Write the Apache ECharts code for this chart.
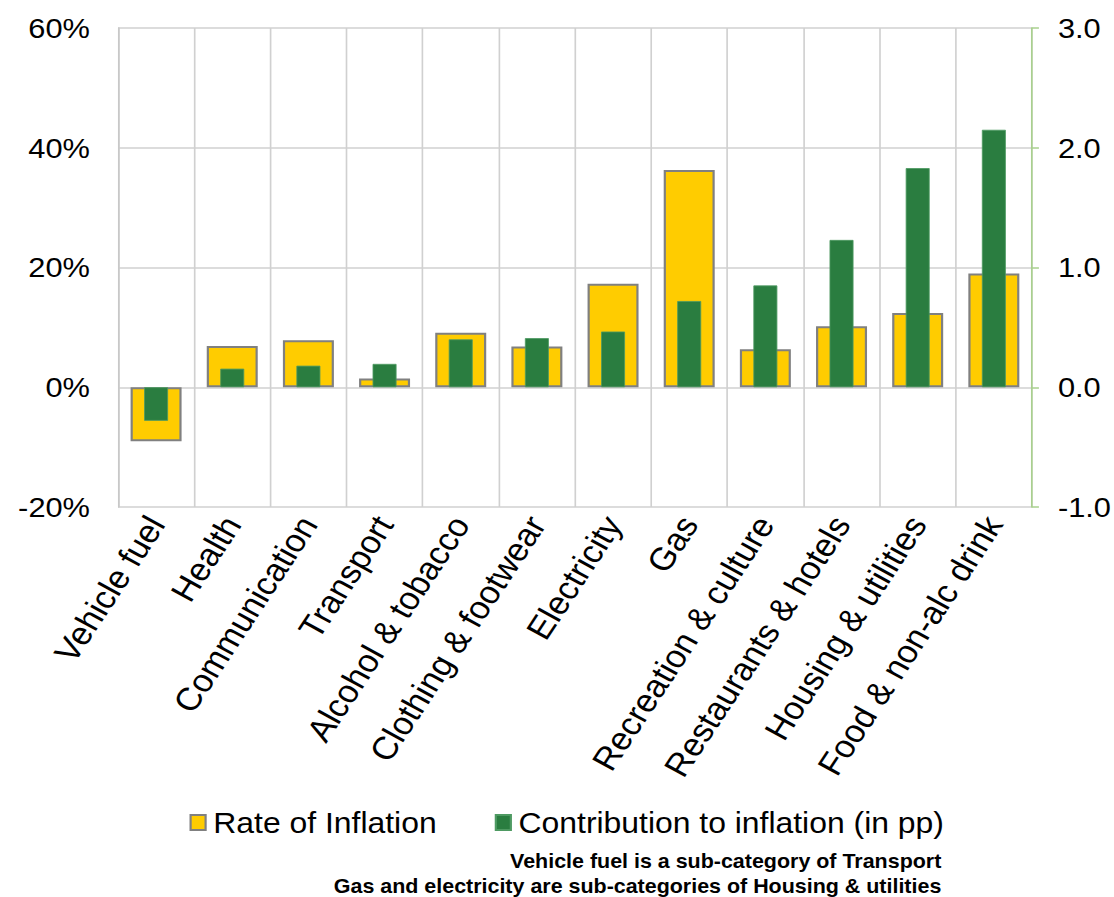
<!DOCTYPE html>
<html>
<head>
<meta charset="utf-8">
<script src="https://cdn.jsdelivr.net/npm/echarts@6/dist/echarts.min.js"></script>
<style>
html,body{margin:0;padding:0;background:#fff;overflow:hidden;}
#chart{width:1012.727px;height:897px;transform:scaleX(1.1);transform-origin:0 0;}
</style>
</head>
<body>
<div id="chart"></div>
<script>
var categories = ['Vehicle fuel','Health','Communication','Transport','Alcohol & tobacco','Clothing & footwear','Electricity','Gas','Recreation & culture','Restaurants & hotels','Housing & utilities','Food & non-alc drink'];
var rateOfInflation = [-9.0, 6.9, 7.85, 1.45, 9.1, 6.8, 17.3, 36.3, 6.35, 10.2, 12.4, 19.0];
var contribution = [-0.28, 0.155, 0.18, 0.195, 0.40, 0.41, 0.465, 0.72, 0.85, 1.23, 1.83, 2.15];
var leftTicks = {min: -20, max: 60, interval: 20};
var rightTicks = {min: -1, max: 3, interval: 1};
var footnotes = ['Vehicle fuel is a sub-category of Transport', 'Gas and electricity are sub-categories of Housing & utilities'];

var SX = 1.1; // horizontal stretch of the page
var FONT = '"Liberation Sans", Arial, sans-serif';
function hx(v) { return v / SX; }
var chart = echarts.init(document.getElementById('chart'), null, {renderer: 'svg'});
chart.setOption({
  backgroundColor: '#ffffff',
  animation: false,
  textStyle: {fontFamily: FONT},
  grid: {left: hx(118), right: hx(81), top: 28, bottom: 390, containLabel: false},
  legend: {
    left: hx(184), top: 803,
    itemWidth: hx(15), itemHeight: 15, itemGap: hx(58),
    icon: 'rect',
    textStyle: {fontSize: 29, color: '#000', fontFamily: FONT, padding: [0, 0, 0, 2]},
    data: ['Rate of Inflation', 'Contribution to inflation (in pp)']
  },
  xAxis: [{
    type: 'category', data: categories, position: 'bottom',
    axisLine: {show: false, onZero: false}, axisTick: {show: false},
    splitLine: {show: true, interval: 0, lineStyle: {color: '#d0d0d0', width: 1.5}},
    axisLabel: {interval: 0, rotate: 59, fontSize: 32, color: '#000', margin: 12, fontFamily: FONT}
  }, {
    type: 'category', data: categories, position: 'top', show: false
  }],
  yAxis: [{
    type: 'value', min: leftTicks.min, max: leftTicks.max, interval: leftTicks.interval,
    axisLine: {show: true, lineStyle: {color: '#c8c8c8', width: 1.5}},
    axisTick: {show: false},
    splitLine: {show: true, lineStyle: {color: '#d0d0d0', width: 1.5}},
    axisLabel: {formatter: '{value}%', fontSize: 28, color: '#000', margin: hx(28), fontFamily: FONT}
  }, {
    type: 'value', min: rightTicks.min, max: rightTicks.max, interval: rightTicks.interval,
    position: 'right',
    axisLine: {show: true, lineStyle: {color: '#a9d08e', width: 1.5}},
    axisTick: {show: true, length: hx(7), lineStyle: {color: '#a9d08e', width: 1.5}},
    splitLine: {show: false},
    axisLabel: {formatter: function (v) { return v.toFixed(1); }, fontSize: 28, color: '#000', margin: hx(26), fontFamily: FONT}
  }],
  series: [{
    name: 'Rate of Inflation', type: 'bar', xAxisIndex: 0, yAxisIndex: 0,
    data: rateOfInflation, barWidth: hx(51),
    itemStyle: {color: '#ffcc00', borderColor: '#808080', borderWidth: 2}
  }, {
    name: 'Contribution to inflation (in pp)', type: 'bar', xAxisIndex: 1, yAxisIndex: 1,
    data: contribution, barWidth: hx(24),
    itemStyle: {color: '#2a7d40', borderColor: '#4e9a62', borderWidth: 0.8}
  }],
  graphic: [{
    type: 'text', right: hx(1114 - 941), top: 851,
    style: {text: footnotes[0], font: 'bold 19.5px ' + FONT, fill: '#000', textAlign: 'right'}
  }, {
    type: 'text', right: hx(1114 - 941), top: 876,
    style: {text: footnotes[1], font: 'bold 19.5px ' + FONT, fill: '#000', textAlign: 'right'}
  }]
});
</script>
</body>
</html>
